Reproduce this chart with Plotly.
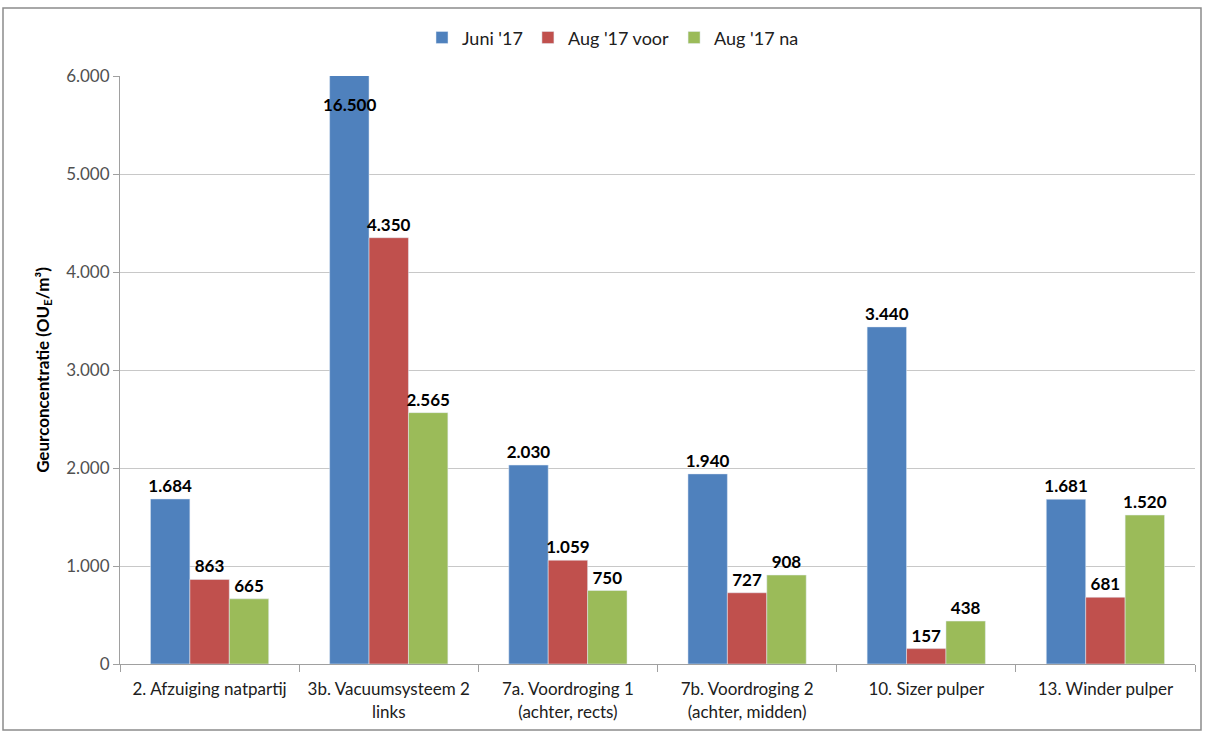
import plotly.graph_objects as go

categories = ["2. Afzuiging natpartij", "3b. Vacuumsysteem 2<br>links", "7a. Voordroging 1<br>(achter, rects)",
              "7b. Voordroging 2<br>(achter, midden)", "10. Sizer pulper", "13. Winder pulper"]
juni17 = [1684, 16500, 2030, 1940, 3440, 1681]
aug17_voor = [863, 4350, 1059, 727, 157, 681]
aug17_na = [665, 2565, 750, 908, 438, 1520]
series_names = ["Juni '17", "Aug '17 voor", "Aug '17 na"]
colors = ["#4F81BD", "#C0504D", "#9BBB59"]
ymax = 6000
bargap = 0.34
FONT = "Lato"


def fmt(v):
    return f"{v:,}".replace(",", ".")


fig = go.Figure()
annotations = []
all_series = [juni17, aug17_voor, aug17_na]
nser = len(all_series)
for si, (name, vals, col) in enumerate(zip(series_names, all_series, colors)):
    texts = ["" if v > ymax else "<b>%s</b>" % fmt(v) for v in vals]
    fig.add_trace(go.Bar(
        x=categories, y=vals, name=name, marker_color=col,
        text=texts, textposition="outside", constraintext="none",
        outsidetextfont=dict(size=17, color="black", family=FONT),
        cliponaxis=True,
    ))
    # value label for bars that exceed the axis range: placed inside the top of the clipped bar
    bw = (1 - bargap) / nser
    for ci, v in enumerate(vals):
        if v > ymax:
            annotations.append(dict(
                x=ci - (1 - bargap) / 2 + bw * (si + 0.5), y=ymax, xref="x", yref="y",
                text="<b>%s</b>" % fmt(v), showarrow=False,
                yanchor="top", yshift=-16, font=dict(size=17, color="black", family=FONT)))

fig.update_layout(
    width=1205, height=733,
    margin=dict(l=120, r=10, t=76, b=69),
    barmode="group", bargap=bargap, bargroupgap=0,
    separators=",.",
    paper_bgcolor="white", plot_bgcolor="white",
    font=dict(family=FONT, size=14, color="#404040"),
    legend=dict(orientation="h", x=(613 - 120) / 1075, xanchor="center", y=1.065, yanchor="middle",
                font=dict(size=18, color="#202020"), itemwidth=30),
    annotations=annotations,
    shapes=[dict(type="rect", xref="paper", yref="paper",
                 x0=(3 - 120) / 1075, x1=(1201 - 120) / 1075,
                 y0=-(730 - 664) / 588, y1=1 + (76 - 8) / 588,
                 line=dict(color="#8C8C8C", width=1.5), layer="below")],
)
fig.update_yaxes(range=[0, ymax], tickvals=list(range(0, 6001, 1000)), tickformat=",",
                 showgrid=True, gridcolor="#C8C8C8", gridwidth=1, automargin=False,
                 showline=True, linecolor="#A0A0A0", ticks="outside", ticklen=6, tickcolor="#A0A0A0",
                 tickfont=dict(size=17, color="#505050"),
                 title=dict(text="<b>Geurconcentratie (OU<sub>E</sub>/m³)</b>", font=dict(size=17, color="black"),
                            standoff=12),
                 zeroline=False)
fig.update_xaxes(showline=True, linecolor="#A0A0A0", ticks="outside", ticklen=7, tickcolor="#A0A0A0",
                 automargin=False, tickangle=0, ticklabelstandoff=10,
                 tickson="boundaries", tickfont=dict(size=17, color="#202020"), showgrid=False)

fig.write_html("out.html")
